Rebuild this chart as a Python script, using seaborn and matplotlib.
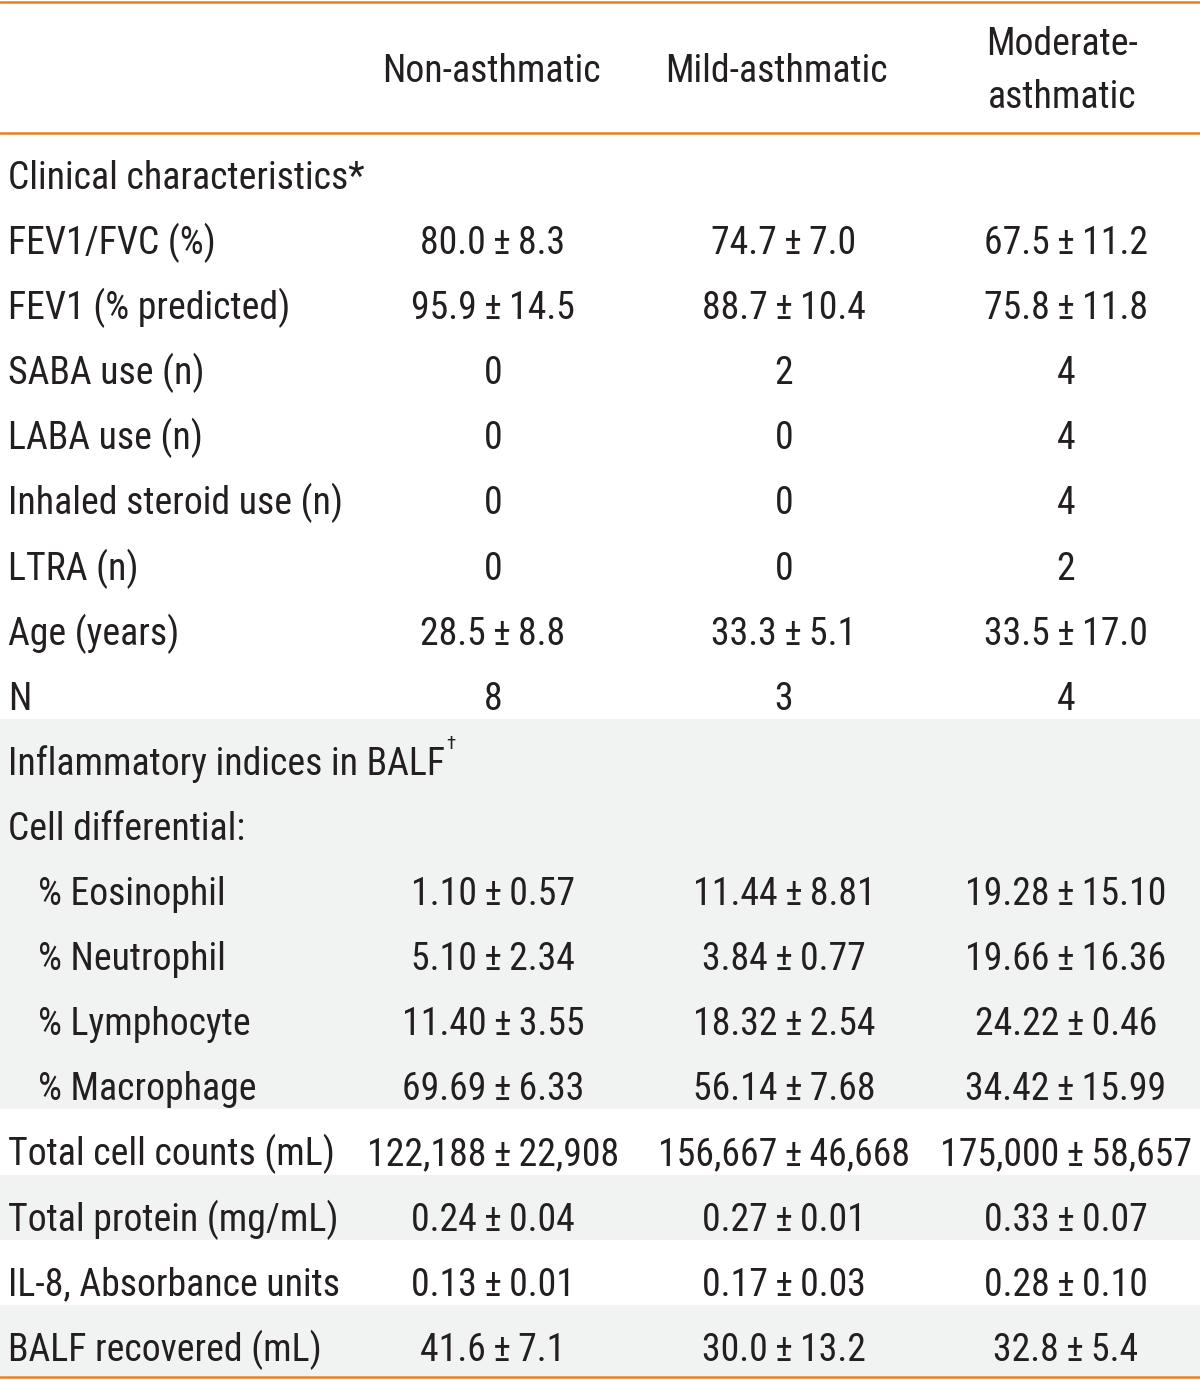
import os
import seaborn as sns
import matplotlib.pyplot as plt
from matplotlib import font_manager as fm
from matplotlib.ft2font import FT2Font

sns.set_theme(style='white')
plt.rcParams['font.family'] = ['DejaVu Sans']

# Table content
groups = ['Non-asthmatic', 'Mild-asthmatic', 'Moderate-\nasthmatic']
row_labels = [
    'Clinical characteristics*',
    'FEV1/FVC (%)',
    'FEV1 (% predicted)',
    'SABA use (n)',
    'LABA use (n)',
    'Inhaled steroid use (n)',
    'LTRA (n)',
    'Age (years)',
    'N',
    'Inflammatory indices in BALF',
    'Cell differential:',
    '% Eosinophil',
    '% Neutrophil',
    '% Lymphocyte',
    '% Macrophage',
    'Total cell counts (mL)',
    'Total protein (mg/mL)',
    'IL-8, Absorbance units',
    'BALF recovered (mL)',
]
non_asthmatic = ['', '80.0±8.3', '95.9±14.5', '0', '0', '0', '0', '28.5±8.8', '8',
                 '', '', '1.10±0.57', '5.10±2.34', '11.40±3.55', '69.69±6.33',
                 '122,188±22,908', '0.24±0.04', '0.13±0.01', '41.6±7.1']
mild_asthmatic = ['', '74.7±7.0', '88.7±10.4', '2', '0', '0', '0', '33.3±5.1', '3',
                  '', '', '11.44±8.81', '3.84±0.77', '18.32±2.54', '56.14±7.68',
                  '156,667±46,668', '0.27±0.01', '0.17±0.03', '30.0±13.2']
moderate_asthmatic = ['', '67.5±11.2', '75.8±11.8', '4', '4', '4', '2', '33.5±17.0', '4',
                      '', '', '19.28±15.10', '19.66±16.36', '24.22±0.46', '34.42±15.99',
                      '175,000±58,657', '0.33±0.07', '0.28±0.10', '32.8±5.4']
indented = ['% Eosinophil', '% Neutrophil', '% Lymphocyte', '% Macrophage']
shaded = [9, 10, 11, 12, 13, 14, 16, 18]


def pick_font():
    # the original uses a condensed sans; take the closest one installed
    wanted = ['robotocondensed-regular', 'liberationsansnarrow-regular',
              'notosans-condensed', 'opensans_condensed-regular',
              'dejavusanscondensed', 'robotocondensed-light']
    files = {os.path.basename(f.fname).lower().rsplit('.', 1)[0]: f.fname
             for f in fm.fontManager.ttflist}
    for w in wanted:
        if w in files:
            return files[w]
    return fm.findfont('DejaVu Sans')


# layout in pixel units
W, H = 1200, 1380
header_h = 133
row_h = 65.1
col_x = [493, 784, 1066]
orange = '#e8801f'
shade = '#f1f3f3'
ink = '#231f20'

fig = plt.figure(figsize=(12, 13.8), dpi=100)
ax = fig.add_axes([0, 0, 1, 1])
ax.set_xlim(0, W)
ax.set_ylim(H, 0)
ax.axis('off')

font_file = pick_font()
fp = fm.FontProperties(fname=font_file)

# small gap around the plus-minus sign, as in the typeset table
pm = '\u2009±\u2009' if FT2Font(font_file).get_char_index(0x2009) else '±'


def cell(s):
    return s.replace('±', pm)


# size the text so that the widest strings take about the width they have in the reference
renderer = fig.canvas.get_renderer()
probe = ax.text(0, 0, row_labels[0], fontproperties=fp, fontsize=30)
w_label = probe.get_window_extent(renderer).width
probe.set_text(cell(moderate_asthmatic[15]))
w_num = probe.get_window_extent(renderer).width
probe.remove()
fs = min(30 * 370 / w_label, 30 * 252 / w_num)
fp.set_size(fs)

# shaded bands
for i in shaded:
    top = header_h + i * row_h
    bot = top + row_h if i < len(row_labels) - 1 else 1376
    ax.axhspan(top, bot, color=shade, lw=0, zorder=0)

# rules
ax.axhline(1.5, color=orange, lw=1.8)
ax.axhline(header_h, color=orange, lw=1.8)
ax.axhline(1376.5, color=orange, lw=1.8)

# header
ax.text(col_x[0] - 2, 82, groups[0], ha='center', va='baseline', fontproperties=fp, color=ink)
ax.text(col_x[1] - 8, 82, groups[1], ha='center', va='baseline', fontproperties=fp, color=ink)
ax.text(col_x[2] - 4, 55, groups[2].split('\n')[0], ha='center', va='baseline', fontproperties=fp, color=ink)
ax.text(col_x[2] - 4, 108, groups[2].split('\n')[1], ha='center', va='baseline', fontproperties=fp, color=ink)

# body
balf_text = None
for i, label in enumerate(row_labels):
    base = header_h + i * row_h + 56
    x0 = 38 if label in indented else 8
    t = ax.text(x0, base, label, ha='left', va='baseline', fontproperties=fp, color=ink)
    if label.startswith('Inflammatory'):
        balf_text = t
    for cx, col in zip(col_x, [non_asthmatic, mild_asthmatic, moderate_asthmatic]):
        if col[i]:
            ax.text(cx, base, cell(col[i]), ha='center', va='baseline', fontproperties=fp, color=ink)

# dagger after BALF
fig.canvas.draw()
bb = balf_text.get_window_extent().transformed(ax.transData.inverted())
fp_small = fp.copy()
fp_small.set_size(fs * 0.5)
ax.text(bb.x1 + 1, header_h + 9 * row_h + 30, '†', ha='left', va='baseline',
        fontproperties=fp_small, color=ink)

fig.savefig('out.png', dpi=100)
